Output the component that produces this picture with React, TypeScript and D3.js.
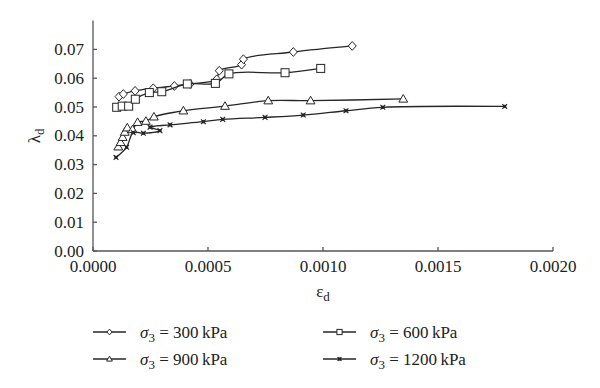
import { useEffect, useRef } from 'react';
import * as d3 from 'd3';

const xTicks = [0, 0.0005, 0.001, 0.0015, 0.002];
const yTicks = [0, 0.01, 0.02, 0.03, 0.04, 0.05, 0.06, 0.07];

const eps300 = [0.000113, 0.000132, 0.000183, 0.000262, 0.000354, 0.000422, 0.000538, 0.000549, 0.000646, 0.000654, 0.000871, 0.001127];
const lam300 = [0.0536, 0.0545, 0.0556, 0.0565, 0.0573, 0.058, 0.0596, 0.0626, 0.0647, 0.0666, 0.0691, 0.0712];

const eps600 = [0.000103, 0.000127, 0.000155, 0.000184, 0.000245, 0.000299, 0.00041, 0.000532, 0.000591, 0.000835, 0.00099];
const lam600 = [0.0499, 0.0503, 0.0503, 0.0527, 0.055, 0.0553, 0.058, 0.0582, 0.0615, 0.0619, 0.0634];

const eps900 = [0.00011, 0.00012, 0.000129, 0.000138, 0.000149, 0.000172, 0.000194, 0.00023, 0.000265, 0.000393, 0.000574, 0.000762, 0.000946, 0.001349];
const lam900 = [0.0362, 0.0377, 0.0395, 0.0413, 0.0428, 0.0422, 0.0447, 0.0451, 0.0466, 0.0487, 0.0503, 0.0522, 0.0522, 0.0528];

const eps1200 = [0.0001, 0.000146, 0.000175, 0.000219, 0.000291, 0.000248, 0.000335, 0.00048, 0.000564, 0.000748, 0.000914, 0.0011, 0.00126, 0.00179];
const lam1200 = [0.0325, 0.036, 0.0411, 0.0409, 0.0418, 0.043, 0.0438, 0.0449, 0.0457, 0.0464, 0.0472, 0.0487, 0.0499, 0.0502];

const seriesLabels = ['300', '600', '900', '1200'];
const markers = ['diamond', 'square', 'triangle', 'cross'];

const ink = '#262626';
const font = 'Liberation Serif, Times New Roman, Times, serif';

function drawMarker(g, kind, x, y, s) {
  if (kind === 'diamond') {
    g.append('path')
      .attr('d', `M${x},${y - s * 1.1}L${x + s},${y}L${x},${y + s * 1.1}L${x - s},${y}Z`)
      .attr('fill', '#fff').attr('stroke', ink).attr('stroke-width', 1);
  } else if (kind === 'square') {
    g.append('rect')
      .attr('x', x - s).attr('y', y - s).attr('width', 2 * s).attr('height', 2 * s)
      .attr('fill', '#fff').attr('stroke', ink).attr('stroke-width', 1);
  } else if (kind === 'triangle') {
    g.append('path')
      .attr('d', `M${x},${y - s * 1.1}L${x + s * 1.1},${y + s * 0.8}L${x - s * 1.1},${y + s * 0.8}Z`)
      .attr('fill', '#fff').attr('stroke', ink).attr('stroke-width', 1);
  } else {
    const r = s * 0.75;
    g.append('path')
      .attr('d', `M${x - r},${y - r}L${x + r},${y + r}M${x - r},${y + r}L${x + r},${y - r}`)
      .attr('stroke', ink).attr('stroke-width', 1.1);
    g.append('rect')
      .attr('x', x - 1.6).attr('y', y - 1.6).attr('width', 3.2).attr('height', 3.2)
      .attr('fill', ink);
  }
}

export default function App() {
  const ref = useRef(null);

  useEffect(() => {
    const svg = d3.select(ref.current);
    svg.selectAll('*').remove();

    const x = d3.scaleLinear().domain([0, 0.002]).range([93, 553]);
    const y = d3.scaleLinear().domain([0, 0.08]).range([251, 20.6]);

    const series = [
      [eps300, lam300],
      [eps600, lam600],
      [eps900, lam900],
      [eps1200, lam1200],
    ];

    // axes
    const axis = svg.append('g').attr('stroke', '#555').attr('stroke-width', 1.3);
    axis.append('line').attr('x1', x(0)).attr('x2', x(0)).attr('y1', y(0.08)).attr('y2', y(0));
    axis.append('line').attr('x1', x(0)).attr('x2', x(0.002)).attr('y1', y(0)).attr('y2', y(0));
    yTicks.forEach(t => {
      axis.append('line').attr('x1', x(0)).attr('x2', x(0) + 4).attr('y1', y(t)).attr('y2', y(t));
    });
    xTicks.forEach(t => {
      axis.append('line').attr('x1', x(t)).attr('x2', x(t)).attr('y1', y(0)).attr('y2', y(0) - 4);
    });

    const labels = svg.append('g').attr('font-family', font).attr('font-size', 17).attr('fill', '#222');
    yTicks.forEach(t => {
      labels.append('text')
        .attr('x', x(0) - 9).attr('y', y(t)).attr('dy', '0.33em')
        .attr('text-anchor', 'end')
        .text(d3.format('.2f')(t));
    });
    xTicks.forEach(t => {
      labels.append('text')
        .attr('x', x(t)).attr('y', 272)
        .attr('text-anchor', 'middle')
        .text(d3.format('.4f')(t));
    });

    // axis titles
    const xt = labels.append('text').attr('x', 323).attr('y', 297).attr('text-anchor', 'middle');
    xt.append('tspan').text('ε');
    xt.append('tspan').attr('font-size', 13).attr('dy', 4).text('d');

    const yt = labels.append('text')
      .attr('transform', `translate(40,${y(0.04)}) rotate(-90)`)
      .attr('text-anchor', 'middle');
    yt.append('tspan').text('λ');
    yt.append('tspan').attr('font-size', 13).attr('dy', 4).text('d');

    // curves
    const line = d3.line()
      .x(d => x(d[0]))
      .y(d => y(d[1]))
      .curve(d3.curveCatmullRom.alpha(0.5));

    series.forEach(([xs, ys], i) => {
      const pts = xs.map((v, j) => [v, ys[j]]);
      svg.append('path')
        .attr('d', line(pts))
        .attr('fill', 'none')
        .attr('stroke', ink)
        .attr('stroke-width', 1.3);
      const g = svg.append('g');
      pts.forEach(p => drawMarker(g, markers[i], x(p[0]), y(p[1]), i === 3 ? 3.2 : 4));
    });

    // legend
    const legendPos = [[93, 332], [323, 332], [93, 359], [323, 359]];
    seriesLabels.forEach((lab, i) => {
      const [lx, ly] = legendPos[i];
      const g = svg.append('g');
      g.append('line')
        .attr('x1', lx).attr('x2', lx + 33).attr('y1', ly).attr('y2', ly)
        .attr('stroke', ink).attr('stroke-width', 1.3);
      drawMarker(g, markers[i], lx + 16.5, ly, 2.6);
      const t = g.append('text')
        .attr('x', lx + 47).attr('y', ly + 6)
        .attr('font-family', font).attr('font-size', 17).attr('fill', '#222');
      t.append('tspan').attr('font-style', 'italic').text('σ');
      t.append('tspan').attr('font-size', 13).attr('dy', 4).text('3');
      t.append('tspan').attr('dy', -4).text(` = ${lab}\u2009kPa`);
    });
  }, []);

  return (
    <svg
      ref={ref}
      width={600}
      height={388}
      style={{ position: 'absolute', left: 0, top: 0, background: '#fff' }}
    />
  );
}
